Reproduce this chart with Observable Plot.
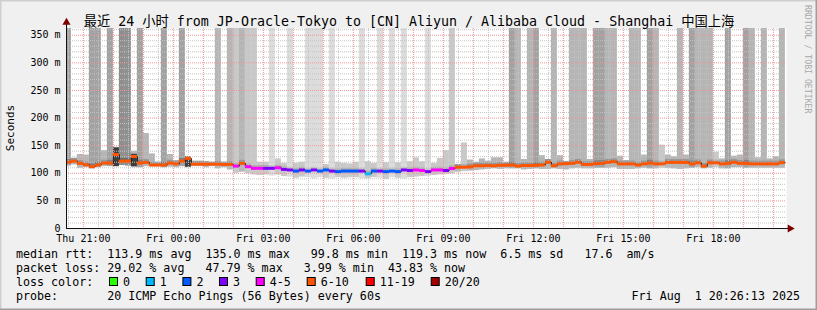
<!DOCTYPE html>
<html><head><meta charset="utf-8">
<script src="https://cdn.jsdelivr.net/npm/d3@7"></script>
<script src="https://cdn.jsdelivr.net/npm/@observablehq/plot@0.6"></script>
<style>
html,body{margin:0;padding:0;background:#f0f0f0;}
#chart{position:relative;width:817px;height:310px;overflow:hidden;}
#chart svg{display:block;}
</style></head><body><div id="chart"></div>
<script>
// ---------- data ----------
const title = "最近 24 小时 from JP-Oracle-Tokyo to [CN] Aliyun / Alibaba Cloud - Shanghai 中国上海";
const yLabel = "Seconds";
const watermark = "RRDTOOL / TOBI OETIKER";
const windowMinutes = 1440;          // Thu 20:26:13 -> Fri 20:26:13
const stepMinutes = 12;
const firstStepStart = -2.2167;      // first RRD step starts 20:24:00
const median = [
 120,122,118,115.5,112,115,118.5,118.5,134,122,
 122,130.5,118.5,119.7,115,115,115,118.5,117,122,
 127,116.5,116.5,116.5,116.5,116.5,116,116,113,118,
 112,109,109,109,109,110,107,106,104,106,
 104,106,104,106,104,103,104,104,104,104,
 99,104,104,103,104,103,106,105,106,105,
 103,106,106,105,108.7,111,111,111.5,113.6,113.6,
 114,113.5,114.5,114.5,115,113,114,114,114.5,115,
 120,113.6,117,117.5,118,120,116,116,117.5,118,
 120,121,117,117,117,115,117,118.5,117,117,
 119.7,119.7,119.7,119.7,117,119,113,119,119,117,
 118,120,118,118,117,117,117,117,117,119.3];
const lossBucket = [
 5,5,5,5,5,5,5,5,5,5,
 5,5,5,5,5,5,5,5,5,5,
 5,5,5,5,5,5,5,5,4,5,
 4,4,4,3,3,4,3,3,2,3,
 2,3,2,2,3,2,2,2,2,3,
 1,2,3,2,2,2,3,3,4,4,
 3,4,4,3,4,5,5,5,5,5,
 5,5,5,5,5,5,5,5,5,5,
 5,5,5,5,5,5,5,5,5,5,
 5,5,5,5,5,5,5,5,5,5,
 5,5,5,5,5,5,5,5,5,5,
 5,5,5,5,5,5,5,5,5,5];
const smokeLow = [
 113,115,109,110,108,110,112,112,112,114,
 113,110,110,112,112,112,110,111,110,112,
 110,112,112,110,112,108,110,106,100,102,
 99,97,96,97,95,97,94,93,91,93,
 92,90,92,91,90,92,91,92,92,90,
 90,92,91,89,92,91,90,92,93,94,
 94,96,97,98,99,102,103,104,105,106,
 107,108,107,108,108,108,106,107,108,107,
 107,108,107,106,108,109,108,108,109,109,
 109,110,107,107,107,108,109,108,108,109,
 109,108,107,108,109,110,108,109,110,108,
 108,110,110,109,109,109,109,109,109,109];
// null = lost pings: the smoke reaches the top of the graph
const smokeHigh = [
 null,127,134,133,null,null,141,null,147,null,
 null,140,null,172,135,120,null,134,123,null,
 130,122,122,121,120,null,120,null,null,null,
 null,null,120,120,null,126,118,null,118,120,
 null,null,null,116,null,120,118,117,120,null,
 121,118,null,119,null,119,null,121,128,121,
 null,118,127,141,null,116,155,124,120,126,
 122,128,128,120,null,null,125,null,null,132,
 125,null,132,121,null,null,null,125,null,null,
 null,null,131,123,null,null,133,null,null,151,
 133,130,null,133,null,null,null,null,138,126,
 null,131,133,null,null,128,null,126,130,null];
const smokeShade = [
 4,3,3,3,4,4,3,4,3,5,
 5,3,4,3,3,3,4,3,3,4,
 3,3,3,3,3,3,3,3,2,3,
 2,2,2,2,1,2,2,1,2,2,
 1,1,1,2,1,2,2,2,2,1,
 2,2,1,2,1,2,1,2,2,2,
 1,2,2,2,2,3,2,3,3,3,
 3,3,3,3,4,3,3,3,4,3,
 3,3,3,3,3,3,3,3,4,4,
 3,3,3,3,3,3,3,4,3,2,
 3,3,3,3,4,3,3,3,2,3,
 4,3,3,4,3,3,3,3,3,3];
const darkStep = [8, 11, 20];
const darkLow = [112, 112, 111];
const darkHigh = [146, 134, 129];
const xTickMinutes = [33.78, 213.78, 393.78, 573.78, 753.78, 933.78, 1113.78, 1293.78];
const xTickLabels = ["Thu 21:00","Fri 00:00","Fri 03:00","Fri 06:00","Fri 09:00","Fri 12:00","Fri 15:00","Fri 18:00"];
const yTicks = [0, 50, 100, 150, 200, 250, 300, 350];
const lossColors = ["#26ff00","#00b8ff","#0059ff","#7e00ff","#ff00ff","#ff5500","#ff0000","#a00000"];
const lossLabels = ["0","1","2","3","4-5","6-10","11-19","20/20"];
const statLines = [
 "median rtt:  113.9 ms avg  135.0 ms max   99.8 ms min  119.3 ms now  6.5 ms sd   17.6  am/s",
 "packet loss: 29.02 % avg   47.79 % max   3.99 % min  43.83 % now",
 "loss color:",
 "probe:       20 ICMP Echo Pings (56 Bytes) every 60s"];
const dateStamp = "Fri Aug  1 20:26:13 2025";

// ---------- styling ----------
const shadeFill = {1:"#dcdcdc",2:"#c9c9c9",3:"#b5b5b5",4:"#a2a2a2",5:"#8e8e8e"};
const coreFill  = {1:"#c6c6c6",2:"#b0b0b0",3:"#969696",4:"#808080",5:"#6c6c6c"};
const yTop = 362.2;
const mono = "'DejaVu Sans Mono', 'Noto Sans CJK SC', monospace";

const steps = median.map((m, i) => ({
  i, m,
  x1: firstStepStart + stepMinutes * i,
  x2: firstStepStart + stepMinutes * (i + 1),
  lo: smokeLow[i],
  hi: smokeHigh[i] == null ? yTop : smokeHigh[i],
  shade: smokeShade[i],
  c: lossColors[lossBucket[i]]
}));
const darks = darkStep.map((s, k) => ({x1: steps[s].x1, x2: steps[s].x2, lo: darkLow[k], hi: darkHigh[k]}));
const minorY = d3.range(10, 361, 10).filter(v => v % 50 !== 0);
const majorY = d3.range(50, 361, 50);
const hours = d3.range(33.78 - 60, windowMinutes, 60).filter(v => v > 0);
const halfHours = d3.range(3.78, windowMinutes, 60);
const lineData = steps.concat([{x1: steps[steps.length-1].x2, m: median[median.length-1]}]);

const plot = Plot.plot({
  width: 817, height: 310,
  marginLeft: 66, marginRight: 31, marginTop: 28, marginBottom: 82,
  style: {fontFamily: mono, background: "transparent", color: "#000", overflow: "visible"},
  x: {domain: [0, windowMinutes]},
  y: {domain: [0, yTop]},
  marks: [
    Plot.frame({fill: "#ffffff", stroke: null}),
    Plot.rectY(steps, {x1: "x1", x2: "x2", y1: "lo", y2: "hi", fill: d => shadeFill[d.shade], clip: true}),
    Plot.rectY(steps, {x1: "x1", x2: "x2", y1: d => Math.max(d.lo, d.m - 3), y2: d => Math.min(d.hi, d.m + 5), fill: d => coreFill[d.shade], clip: true}),
    Plot.rectY(darks, {x1: "x1", x2: "x2", y1: "lo", y2: "hi", fill: "#3c3c3c", clip: true}),
    Plot.ruleY(minorY, {stroke: "#c4c4c4", strokeDasharray: "1,1", strokeWidth: 1}),
    Plot.ruleX(halfHours, {stroke: "#c4c4c4", strokeDasharray: "1,1", strokeWidth: 1}),
    Plot.ruleY(majorY, {stroke: "#f29595", strokeDasharray: "1,1", strokeWidth: 1}),
    Plot.ruleX(hours, {stroke: "#f29595", strokeDasharray: "1,1", strokeWidth: 1}),
    Plot.line(lineData, {x: "x1", y: "m", curve: "step-after", stroke: "#202020", strokeWidth: 1, clip: true}),
    Plot.ruleY(steps, {y: "m", x1: "x1", x2: "x2", stroke: "c", strokeWidth: 3, clip: true}),
    Plot.ruleY([0], {x1: 0, x2: windowMinutes + 5, stroke: "#101010"}),
    Plot.ruleX([0], {y1: 0, y2: yTop + 10, stroke: "#101010"}),
    Plot.dot([0], {x: () => windowMinutes + 7, y: 0, symbol: "triangle", rotate: 90, r: 3, fill: "#7f0000", stroke: null}),
    Plot.dot([0], {x: 0, y: () => yTop + 11, symbol: "triangle", r: 3, fill: "#7f0000", stroke: null}),
    Plot.axisY(yTicks, {tickFormat: d => d === 0 ? "0" : `${d} m`, tickSize: 0, tickPadding: 6, fontSize: 10, label: null}),
    Plot.axisX(xTickMinutes, {tickFormat: d => xTickLabels[xTickMinutes.indexOf(d)], tickSize: 0, tickPadding: 6, fontSize: 10, label: null})
  ]
});
document.getElementById("chart").appendChild(plot);

// ---------- texts around the plot ----------
const svg = d3.select(plot);
svg.insert("rect", ":first-child").attr("x", 0).attr("y", 0).attr("width", 817).attr("height", 310).attr("fill", "#f0f0f0");
svg.append("path").attr("d", "M0,310 L0,0 L817,0").attr("stroke", "#cfcfcf").attr("stroke-width", 3).attr("fill", "none");
svg.append("path").attr("d", "M817,0 L817,310 L0,310").attr("stroke", "#9e9e9e").attr("stroke-width", 3).attr("fill", "none");

function txt(s, x, y, size, anchor, fill) {
  return svg.append("text").text(s).attr("x", x).attr("y", y).attr("text-anchor", anchor || "start")
    .attr("font-family", mono).attr("font-size", size).attr("fill", fill || "#000")
    .attr("xml:space", "preserve").style("white-space", "pre");
}
txt(title, 409, 26, 13.3, "middle");
txt(yLabel, 0, 0, 11, "middle").attr("x", null).attr("y", null).attr("transform", "translate(14,128) rotate(-90)");
txt(watermark, 0, 0, 8.2, "start", "#a8a8a8").attr("x", null).attr("y", null).attr("transform", "translate(805,5) rotate(90)");

const lineY = [258, 272, 286, 300];
statLines.forEach((s, k) => txt(s, 16, lineY[k], 11.66, "start"));
const squareX = [109, 145.7, 182.4, 219, 255.7, 306.7, 365.7, 430.7];
lossColors.forEach((c, k) => {
  svg.append("rect").attr("x", squareX[k] + 0.5).attr("y", lineY[2] - 8.5).attr("width", 8).attr("height", 8)
    .attr("fill", c).attr("stroke", "#000").attr("stroke-width", 1);
  txt(lossLabels[k], squareX[k] + 14, lineY[2], 11.66, "start");
});
txt(dateStamp, 800, lineY[3], 11.66, "end");
</script></body></html>
